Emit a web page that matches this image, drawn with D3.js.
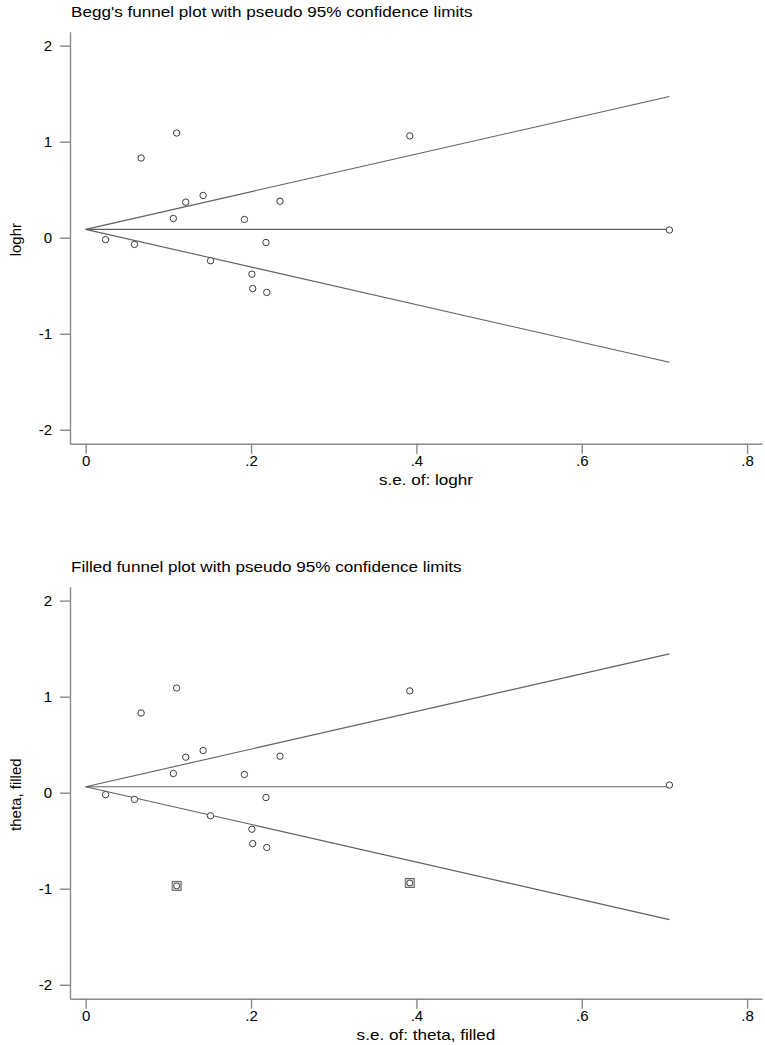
<!DOCTYPE html>
<html>
<head>
<meta charset="utf-8">
<script src="https://cdn.jsdelivr.net/npm/d3@7"></script>
<style>
  body { margin: 0; background: #fff; }
  svg text { font-family: "Liberation Sans", Arial, sans-serif; fill: #000; }
  .axis path, .axis line { stroke: #8a8a8a; stroke-width: 1.4; }
</style>
</head>
<body>
<div id="chart"></div>
<script>
// Observed studies: standard error and log hazard ratio
const seObserved = [0.024, 0.059, 0.067, 0.110, 0.106, 0.121, 0.142, 0.151,
                    0.192, 0.201, 0.218, 0.235, 0.202, 0.219, 0.392, 0.706];
const loghr = [-0.02, -0.07, 0.83, 1.09, 0.20, 0.37, 0.44, -0.24,
               0.19, -0.38, -0.05, 0.38, -0.53, -0.57, 1.06, 0.08];

// Trim-and-fill imputed studies
const seFilled = [0.110, 0.392];
const thetaFilled = [-0.97, -0.94];

// Pooled estimates used for the funnel centre
const thetaBegg = 0.087;
const thetaFill = 0.062;
const seMax = 0.706;

const xTicks = [0, 0.2, 0.4, 0.6, 0.8];
const yTicks = [-2, -1, 0, 1, 2];

const panels = [
  { top: 0, title: "Begg's funnel plot with pseudo 95% confidence limits",
    ylab: "loghr", xlab: "s.e. of: loghr", theta: thetaBegg, filled: false },
  { top: 555, title: "Filled funnel plot with pseudo 95% confidence limits",
    ylab: "theta, filled", xlab: "s.e. of: theta, filled", theta: thetaFill, filled: true }
];

const width = 765, height = 1045;
const fontSize = "15px";
const stretch = 1.14; // the original glyphs run wider than Liberation Sans

const svg = d3.select("#chart").append("svg").attr("width", width).attr("height", height);

const x = d3.scaleLinear().domain([-0.019, 0.818]).range([70, 762]);
const fmtX = d => d === 0 ? "0" : d3.format(".1f")(d).replace(/^0/, "");
const fmtY = d => String(d);

function widen(sel) {
  sel.each(function () {
    const w = this.getComputedTextLength();
    d3.select(this).attr("textLength", w * stretch).attr("lengthAdjust", "spacingAndGlyphs");
  });
}

panels.forEach(p => {
  const g = svg.append("g").attr("transform", `translate(0,${p.top})`);
  const y = d3.scaleLinear().domain([-2.145, 2.145]).range([443.7, 31.7]);

  g.append("text")
    .attr("x", 71).attr("y", 16.5)
    .style("font-size", fontSize)
    .text(p.title)
    .call(widen);

  const yAxis = g.append("g").attr("class", "axis")
    .attr("transform", "translate(70,0)")
    .call(d3.axisLeft(y).tickValues(yTicks).tickSize(10).tickPadding(8).tickSizeOuter(0).tickFormat(fmtY));
  yAxis.selectAll("text").style("font-size", fontSize).attr("fill", "#000");

  const xAxis = g.append("g").attr("class", "axis")
    .attr("transform", "translate(0,443.7)")
    .call(d3.axisBottom(x).tickValues(xTicks).tickSize(10).tickPadding(2).tickSizeOuter(0).tickFormat(fmtX));
  xAxis.selectAll("text").style("font-size", fontSize).attr("fill", "#000");

  g.append("text")
    .attr("transform", `translate(21,${(y.range()[0] + y.range()[1]) / 2 + 2}) rotate(-90)`)
    .attr("text-anchor", "middle")
    .style("font-size", fontSize)
    .text(p.ylab);

  g.append("text")
    .attr("x", 426).attr("y", 484.5)
    .attr("text-anchor", "middle")
    .style("font-size", fontSize)
    .text(p.xlab)
    .call(widen);

  // Funnel: centre line and pseudo 95% limits
  const limits = [
    [[0, p.theta], [seMax, p.theta]],
    [[0, p.theta], [seMax, p.theta + 1.96 * seMax]],
    [[0, p.theta], [seMax, p.theta - 1.96 * seMax]]
  ];
  const line = d3.line().x(d => x(d[0])).y(d => y(d[1]));
  g.selectAll(".limit").data(limits).enter().append("path")
    .attr("class", "limit")
    .attr("d", line)
    .attr("fill", "none")
    .attr("stroke", "#5f5f5f")
    .attr("stroke-width", 1.1);

  if (p.filled) {
    g.selectAll(".fillsq").data(seFilled).enter().append("rect")
      .attr("class", "fillsq")
      .attr("x", (d) => x(d) - 4.5)
      .attr("y", (d, i) => y(thetaFilled[i]) - 4.5)
      .attr("width", 9).attr("height", 9)
      .attr("fill", "#d0d0d0")
      .attr("stroke", "#666")
      .attr("stroke-width", 1);
    g.selectAll(".fillpt").data(seFilled).enter().append("circle")
      .attr("class", "fillpt")
      .attr("cx", d => x(d))
      .attr("cy", (d, i) => y(thetaFilled[i]))
      .attr("r", 3)
      .attr("fill", "#fff")
      .attr("stroke", "#444")
      .attr("stroke-width", 1);
  }

  g.selectAll(".pt").data(seObserved).enter().append("circle")
    .attr("class", "pt")
    .attr("cx", d => x(d))
    .attr("cy", (d, i) => y(loghr[i]))
    .attr("r", 3.2)
    .attr("fill", "#fff")
    .attr("stroke", "#3a3a3a")
    .attr("stroke-width", 1);
});
</script>
</body>
</html>
